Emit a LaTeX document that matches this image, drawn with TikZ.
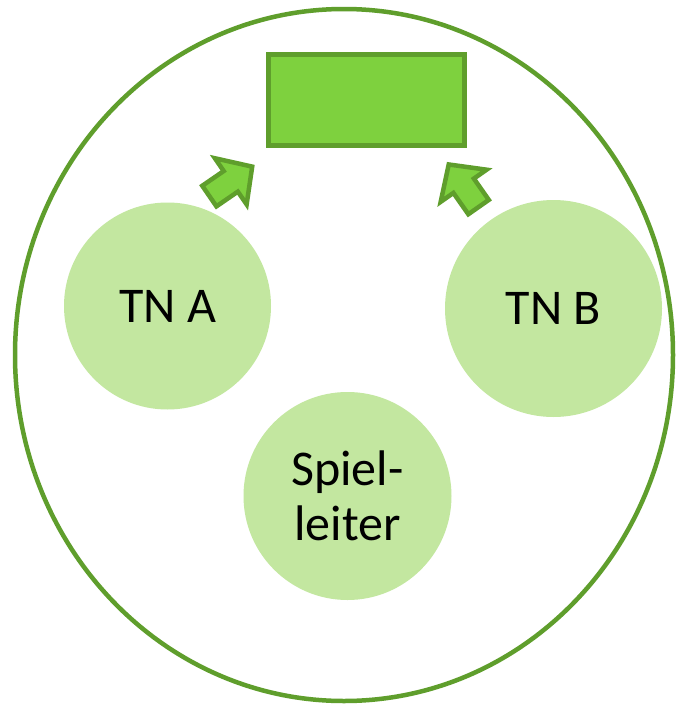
\documentclass[tikz,border=0pt]{standalone}
\usepackage{fontspec}
\setmainfont{Carlito}
\definecolor{dkgreen}{HTML}{5F9E2C}
\definecolor{midgreen}{HTML}{7ED13E}
\definecolor{ltgreen}{HTML}{C3E7A0}
\tikzset{
  member/.style={circle, fill=ltgreen, inner sep=0pt, align=center,
    font=\fontsize{50}{55}\selectfont, text=black},
  blockarrow/.style={draw=dkgreen, fill=midgreen, line width=4.5pt, line join=miter},
  target/.style={draw=dkgreen, fill=midgreen, line width=5pt, inner sep=0pt,
    minimum width=196pt, minimum height=90.5pt},
}
\begin{document}
\begin{tikzpicture}[x=1pt, y=-1pt]
\useasboundingbox (0,0) rectangle (675,704);
\fill[white] (0,0) rectangle (675,704);
\draw[dkgreen, line width=4.5pt] (344,355) ellipse [x radius=329pt, y radius=346pt];
\node[target] (goal) at (366.5,99.8) {};
\node[member, minimum size=207pt] (a) at (167.5,306) {TN A};
\node[member, minimum size=217pt] (b) at (553.5,308.5) {TN B};
\node[member, minimum size=208pt] (s) at (347.5,496) {Spiel-\\leiter};
\begin{scope}[shift={(207.7,197.2)}, rotate=34.5]
  \draw[blockarrow] (2,-12.5) -- (28,-12.5) -- (28,-28) -- (54,0) -- (28,28) -- (28,12.5) -- (2,12.5) -- cycle;
\end{scope}
\begin{scope}[shift={(479.7,208.7)}, rotate=125]
  \draw[blockarrow] (2,-12.5) -- (28,-12.5) -- (28,-28) -- (54,0) -- (28,28) -- (28,12.5) -- (2,12.5) -- cycle;
\end{scope}
\end{tikzpicture}
\end{document}
